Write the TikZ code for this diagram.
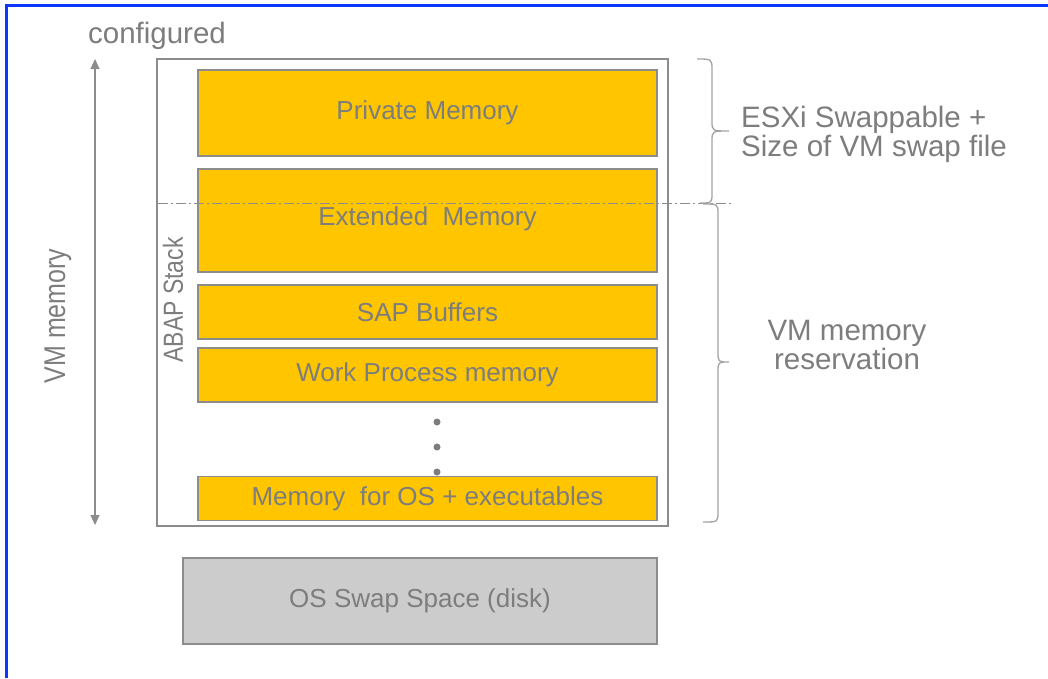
\documentclass[tikz,border=0pt]{standalone}
\usepackage{fontspec}
\setmainfont{Liberation Sans}
\newfontfamily\plainface{Liberation Sans}
\usetikzlibrary{arrows.meta}
\definecolor{sapyellow}{RGB}{255,198,0}
\definecolor{txtgray}{RGB}{125,125,125}
\definecolor{linegray}{RGB}{140,140,140}
\definecolor{swapgray}{RGB}{204,204,204}
\definecolor{frameblue}{RGB}{10,56,255}
\tikzset{
  membox/.style={draw=linegray, line width=1.3pt, fill=sapyellow, minimum width=459pt,
    inner sep=0pt, text=txtgray, font=\plainface\fontsize{26}{30}\selectfont},
  swapbox/.style={draw=linegray, line width=1.3pt, fill=swapgray, minimum width=474pt,
    minimum height=86pt, inner sep=0pt, text=txtgray, font=\plainface\fontsize{26}{30}\selectfont},
  bigtext/.style={text=txtgray, font=\plainface\fontsize{29.5}{29}\selectfont, inner sep=0pt},
  bracepath/.style={draw=linegray!80, line width=1.3pt},
}
\begin{document}
\begin{tikzpicture}[x=1pt,y=-1pt]
\useasboundingbox (0,0) rectangle (1048,678);
\fill[white] (0,0) rectangle (1048,678);
% blue frame
\fill[frameblue] (5,4) rectangle (1048,7);
\fill[frameblue] (5,4) rectangle (8,678);

% outer VM box
\node[draw=linegray, line width=2pt, minimum width=511pt, minimum height=467pt, inner sep=0pt] (vm) at (412.5,292.5) {};

% memory boxes
\node[membox, minimum height=86pt] (priv) at (427.5,113) {Private Memory};
\node[membox, minimum height=103pt] (ext) at (427.5,220.5) {};
\node[text=txtgray, font=\plainface\fontsize{26}{30}\selectfont, inner sep=0pt] (exttxt) at (427.5,219) {Extended\ \ Memory};
\node[membox, minimum height=54pt] (buf) at (427.5,312) {SAP Buffers};
\node[membox, minimum height=54pt] (wp) at (427.5,375) {Work Process memory};
\node[membox, minimum height=44pt] (os) at (427.5,498.5) {Memory\ \ for OS + executables};

% dots
\fill[txtgray] (437,422) circle (3.5pt);
\fill[txtgray] (437,447) circle (3.5pt);
\fill[txtgray] (437,472) circle (3.5pt);

% swap space
\node[swapbox] (swap) at (420,601) {OS Swap Space (disk)};

% dash-dot line
\coordinate (dl) at (158,203);
\coordinate (dr) at (732,203);
\draw[linegray, line width=1pt, dash pattern=on 10pt off 3pt on 2pt off 3pt] (dl) -- (dr);

% ABAP Stack label
\node[rotate=90, text=txtgray, font=\plainface\fontsize{23}{27}\selectfont, inner sep=0pt] (abap) at (173,300) {\scalebox{1}[1.2]{ABAP Stack}};

% VM memory arrow
\coordinate (atop) at (95,59);
\coordinate (abot) at (95,525);
\draw[linegray, line width=1.2pt, {Triangle[length=10pt,width=9pt]}-{Triangle[length=10pt,width=9pt]}] (atop) -- (abot);
\node[rotate=90, text=txtgray, font=\plainface\fontsize{25}{29}\selectfont, inner sep=0pt] (vmlabel) at (58,316) {\scalebox{1}[1.2]{VM memory}};
\node[bigtext] (conf) at (157,36) {configured};

% braces
\coordinate (b1a) at (697,59);
\coordinate (b1t) at (729,131);
\coordinate (b1b) at (700,203);
\draw[bracepath] (b1a) .. controls (712,59) .. (712,70) -- (712,121)
  .. controls (712,131) .. (b1t) .. controls (712,131) .. (712,141) -- (712,193)
  .. controls (712,203) .. (b1b);
\coordinate (b2a) at (703,204);
\coordinate (b2t) at (729,362);
\coordinate (b2b) at (703,522);
\draw[bracepath] (b2a) .. controls (718,204) .. (718,214) -- (718,352)
  .. controls (718,362) .. (b2t) .. controls (718,362) .. (718,372) -- (718,512)
  .. controls (718,522) .. (b2b);

% right labels
\node[bigtext, anchor=west, align=left] (esxi) at (741,134) {ESXi Swappable +\\Size of VM swap file};
\node[bigtext, align=center] (res) at (847,345) {VM memory\\reservation};
\end{tikzpicture}
\end{document}
